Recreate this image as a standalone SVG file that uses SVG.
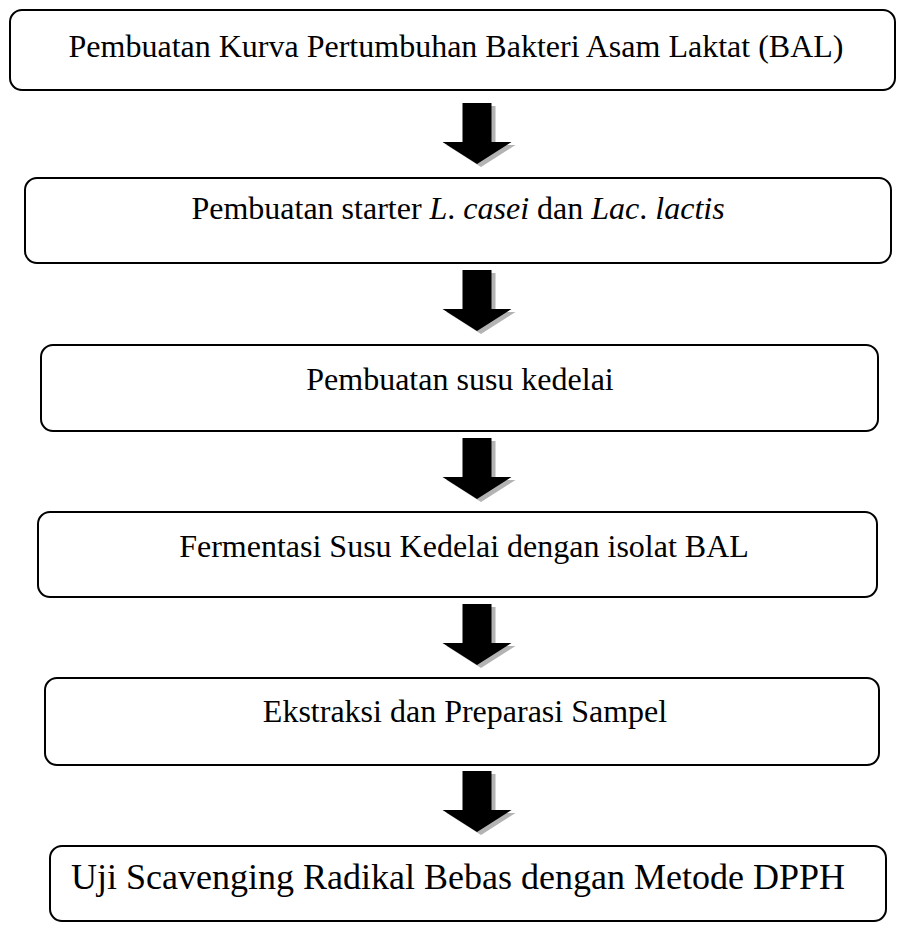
<svg xmlns="http://www.w3.org/2000/svg" width="897" height="928" viewBox="0 0 897 928">
<style>
.box{fill:none;stroke:#000;stroke-width:2}
.lbl{font-family:"Liberation Serif","Times New Roman",serif;font-size:32px;fill:#000;text-anchor:middle}
.big{font-size:36px}
.it{font-style:italic}
.arr{fill:#000}
.sh{fill:#9a9a9a;opacity:0.75}
</style>
<defs>
<path id="ar" d="M-15,0 H14 V39 H34 L-0.5,61 L-35,39 H-15 Z"/>
</defs>
<rect width="897" height="928" fill="#fff"/>
<g id="connectors">
<g transform="translate(477.5,103)"><use href="#ar" class="sh" x="4" y="3"/><use href="#ar" class="arr"/></g>
<g transform="translate(477.5,270)"><use href="#ar" class="sh" x="4" y="3"/><use href="#ar" class="arr"/></g>
<g transform="translate(477.5,438)"><use href="#ar" class="sh" x="4" y="3"/><use href="#ar" class="arr"/></g>
<g transform="translate(477.5,604)"><use href="#ar" class="sh" x="4" y="3"/><use href="#ar" class="arr"/></g>
<g transform="translate(477.5,771)"><use href="#ar" class="sh" x="4" y="3"/><use href="#ar" class="arr"/></g>
</g>
<g id="node1">
<rect class="box" x="10" y="10" width="885" height="80" rx="12"/>
<text class="lbl" x="456" y="57">Pembuatan Kurva Pertumbuhan Bakteri Asam Laktat (BAL)</text>
</g>
<g id="node2">
<rect class="box" x="25" y="178" width="866" height="85" rx="12"/>
<text class="lbl" x="458" y="219">Pembuatan starter <tspan class="it">L</tspan>. <tspan class="it">casei</tspan> dan <tspan class="it">Lac</tspan>. <tspan class="it">lactis</tspan></text>
</g>
<g id="node3">
<rect class="box" x="41" y="345" width="837" height="86" rx="12"/>
<text class="lbl" x="460" y="390">Pembuatan susu kedelai</text>
</g>
<g id="node4">
<rect class="box" x="38" y="512" width="839" height="85" rx="12"/>
<text class="lbl" x="464" y="557">Fermentasi Susu Kedelai dengan isolat BAL</text>
</g>
<g id="node5">
<rect class="box" x="45" y="678" width="834" height="87" rx="12"/>
<text class="lbl" x="465" y="722">Ekstraksi dan Preparasi Sampel</text>
</g>
<g id="node6">
<rect class="box" x="50" y="846" width="836" height="75" rx="12"/>
<text class="lbl big" x="458" y="889">Uji Scavenging Radikal Bebas dengan Metode DPPH</text>
</g>
</svg>
